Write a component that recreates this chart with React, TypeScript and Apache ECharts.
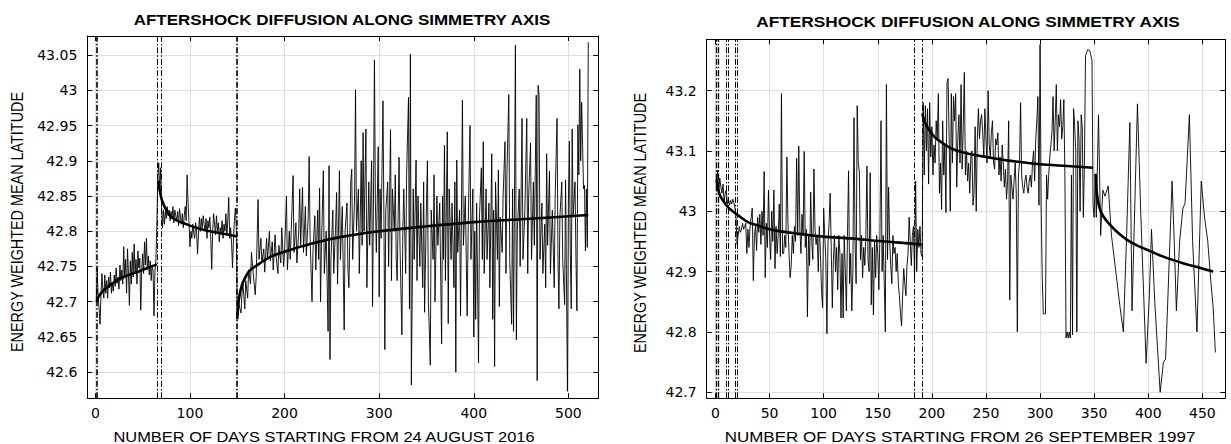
import React, { useEffect, useRef } from "react";
import * as echarts from "echarts";

const TITLE = "AFTERSHOCK DIFFUSION ALONG SIMMETRY AXIS";
const Y_NAME = "ENERGY WEIGHTED MEAN LATITUDE";
const LEFT_X_NAME = "NUMBER OF DAYS STARTING FROM 24 AUGUST 2016";
const RIGHT_X_NAME = "NUMBER OF DAYS STARTING FROM 26 SEPTEMBER 1997";

const LEFT_X_TICKS = [0, 100, 200, 300, 400, 500];
const LEFT_Y_TICKS = [42.6, 42.65, 42.7, 42.75, 42.8, 42.85, 42.9, 42.95, 43, 43.05];
const RIGHT_X_TICKS = [0, 50, 100, 150, 200, 250, 300, 350, 400, 450];
const RIGHT_Y_TICKS = [42.7, 42.8, 42.9, 43, 43.1, 43.2];

const LEFT_VLINES = [1.6, 65.7, 69.2, 149.9];
const LEFT_VLINE_WIDTH = [1.6, 1, 1, 1.6];
const RIGHT_VLINES = [1.1, 2.3, 9.7, 11.5, 18.3, 20.1, 183.5, 191.1];
const RIGHT_VLINE_WIDTH = [1.3, 1.3, 1, 1, 1, 1, 1, 1];

const leftObs: [number, number][] = [
  [1,42.700],[2,42.748],[3,42.705],[4,42.690],[5,42.668],[6,42.712],[7,42.740],[8,42.715],[9,42.705],[10,42.738],
  [11,42.712],[12,42.730],[13,42.705],[14,42.735],[15,42.720],[16,42.742],[17,42.712],[18,42.728],[19,42.715],[20,42.738],
  [21,42.722],[22,42.748],[23,42.726],[24,42.735],[25,42.718],[26,42.752],[27,42.730],[28,42.745],[29,42.725],[30,42.778],
  [31,42.735],[32,42.760],[33,42.712],[34,42.775],[35,42.740],[36,42.695],[37,42.758],[38,42.725],[39,42.770],[40,42.735],
  [41,42.782],[42,42.740],[43,42.760],[44,42.725],[45,42.772],[46,42.748],[47,42.762],[48,42.688],[49,42.745],[50,42.768],
  [51,42.740],[52,42.785],[53,42.752],[54,42.790],[55,42.745],[56,42.765],[57,42.738],[58,42.758],[59,42.730],[60,42.752],
  [61,42.745],[62,42.680],[63,42.742],[64,42.760],[65,42.808],
  [66,42.875],[67,42.897],[68,42.855],[69,42.890],[70,42.835],[71,42.805],[72,42.830],[73,42.810],[74,42.828],[75,42.818],
  [76,42.835],[77,42.822],[78,42.830],[79,42.815],[80,42.828],[81,42.820],[82,42.835],[83,42.812],[84,42.830],[85,42.822],
  [86,42.815],[87,42.828],[88,42.808],[89,42.832],[90,42.820],[91,42.810],[92,42.825],[93,42.805],[94,42.822],[95,42.835],
  [96,42.815],[97,42.880],[98,42.840],[99,42.812],[100,42.778],[101,42.800],[102,42.790],[103,42.810],[104,42.798],[105,42.790],
  [106,42.812],[107,42.800],[108,42.768],[109,42.795],[110,42.820],[111,42.800],[112,42.818],[113,42.805],[114,42.822],[115,42.810],
  [116,42.800],[117,42.818],[118,42.790],[119,42.815],[120,42.805],[121,42.820],[122,42.790],[123,42.746],[124,42.800],[125,42.825],
  [126,42.810],[127,42.795],[128,42.822],[129,42.800],[130,42.812],[131,42.785],[132,42.805],[133,42.798],[134,42.815],[135,42.790],
  [136,42.810],[137,42.800],[138,42.825],[139,42.795],[140,42.815],[141,42.848],[142,42.790],[143,42.805],[144,42.782],[145,42.748],
  [146,42.790],[147,42.815],[148,42.833],[149,42.805],
  [150,42.677],[151,42.705],[152,42.695],[154,42.684],[155,42.712],[156,42.725],[158,42.690],[159,42.730],[161,42.705],[162,42.745],
  [164,42.725],[165,42.770],[167,42.738],[169,42.710],[170,42.735],[172,42.845],[173,42.760],[175,42.790],[176,42.755],[178,42.775],
  [179,42.742],[181,42.790],[182,42.760],[184,42.800],[185,42.758],[187,42.785],[188,42.745],[190,42.795],[191,42.765],[193,42.740],
  [194,42.780],[196,42.755],[197,42.805],[199,42.750],[200,42.770],[202,42.850],[203,42.745],[205,42.800],[206,42.760],[208,42.838],
  [209,42.879],[210,42.770],[212,42.812],[213,42.755],[215,42.800],[216,42.860],[217,42.780],[219,42.862],[220,42.770],[222,42.835],
  [223,42.765],[225,42.820],[226,42.906],[227,42.790],[229,42.700],[230,42.770],[232,42.822],[233,42.745],[235,42.830],[236,42.760],
  [237,42.861],[238,42.700],[239,42.780],[241,42.886],[242,42.740],[244,42.800],[246,42.658],[247,42.893],[248,42.618],[249,42.760],
  [251,42.830],[252,42.740],[254,42.810],[255,42.855],[256,42.725],[258,42.886],[259,42.760],[261,42.835],[263,42.660],[264,42.800],
  [266,42.840],[267,42.745],[268,42.720],[270,42.870],[271,42.888],[272,42.760],[274,42.850],[275,43.001],[276,42.800],[278,42.860],
  [279,42.740],[281,42.900],[282,42.780],[283,42.940],[284,42.800],[286,42.945],[287,42.720],[289,42.870],[290,42.780],[292,42.900],
  [293,42.693],[294,42.850],[295,43.043],[296,42.840],[297,42.770],[299,42.920],[300,42.707],[301,42.860],[302,42.790],[304,42.985],
  [305,42.820],[306,42.632],[307,42.830],[309,42.870],[310,42.750],[312,42.944],[313,42.730],[314,42.860],[316,42.800],[317,42.880],
  [318,42.760],[319,42.730],[321,42.905],[322,42.780],[324,42.653],[325,42.800],[326,42.860],[328,42.740],[329,42.880],[331,42.990],
  [332,42.690],[333,43.051],[334,42.582],[336,42.860],[337,42.760],[339,42.901],[340,42.730],[341,42.850],[343,42.750],[344,42.840],
  [346,42.720],[347,42.870],[348,42.685],[350,42.840],[351,42.900],[352,42.700],[353,42.660],[354,42.610],[355,42.830],[357,42.760],
  [358,42.880],[359,42.700],[361,42.850],[362,42.780],[364,42.840],[366,42.640],[367,42.850],[368,42.760],[369,42.922],[370,42.730],
  [372,42.941],[373,42.669],[374,42.860],[376,42.760],[377,42.840],[379,42.720],[380,42.870],[381,42.600],[382,42.901],[383,42.770],
  [385,42.830],[386,42.680],[388,42.986],[389,42.780],[391,42.850],[393,42.680],[394,42.800],[396,42.950],[397,42.760],[399,42.860],
  [400,42.650],[401,42.800],[402,42.675],[403,42.840],[405,42.613],[406,42.820],[408,42.890],[409,42.760],[410,42.927],[411,42.740],
  [413,42.860],[414,42.760],[416,42.840],[417,42.720],[419,42.910],[420,42.675],[421,42.830],[422,42.608],[423,42.870],[425,42.760],
  [426,42.887],[427,42.693],[428,42.820],[430,42.770],[431,42.850],[433,42.927],[434,42.740],[435,42.880],[437,42.994],[438,42.760],
  [440,42.668],[441,42.860],[442,42.658],[443,42.840],[444,43.064],[445,42.646],[446,42.800],[448,42.860],[449,42.750],[451,42.960],
  [452,42.760],[454,42.830],[456,42.960],[457,42.740],[458,42.850],[460,42.925],[461,42.760],[463,42.870],[464,42.780],[466,42.993],
  [467,42.588],[468,43.007],[469,42.993],[470,42.760],[472,42.840],[473,42.740],[475,42.810],[476,42.720],[477,42.910],[478,42.780],
  [480,42.885],[481,42.740],[483,42.830],[485,42.720],[486,42.850],[488,42.960],[489,42.760],[490,42.690],[491,42.820],[493,42.870],
  [494,42.760],[496,42.696],[497,42.873],[499,42.573],[500,42.840],[501,42.928],[502,42.770],[503,42.690],[504,42.945],[505,42.820],
  [507,42.870],[508,42.760],[509,42.687],[510,42.951],[511,42.880],[512,43.030],[513,42.900],[514,42.983],[516,42.860],[517,42.865],
  [518,42.772],[519,42.860],[520,42.777],[521,43.068],
];

const leftFit1: [number, number][] = [
  [1.6,42.700],[3,42.706],[6,42.712],[10,42.718],[16,42.724],[25,42.732],[35,42.738],[44,42.742],[55,42.748],[65,42.753],
];
const leftFit2: [number, number][] = [
  [66.6,42.872],[68,42.858],[70,42.846],[72.5,42.837],[75.5,42.829],[79,42.822],[85,42.816],[92,42.812],[100,42.808],
  [112,42.803],[125,42.799],[137,42.796],[149,42.793],
];
const leftFit3: [number, number][] = [
  [150,42.675],[151,42.695],[152.5,42.710],[155,42.724],[158,42.733],[163,42.744],[170,42.751],[184,42.763],[200,42.771],
  [230,42.783],[260,42.792],[300,42.800],[350,42.807],[400,42.813],[450,42.817],[521,42.823],
];

const rightObs: [number, number][] = [
  [1,43.050],[2,43.068],[3,43.030],[4,43.055],[5,43.040],[6,43.030],[7,43.045],[8,43.015],[9,43.030],[10,43.035],
  [11,43.012],[12,43.020],[13,43.010],[14,43.018],[15,43.012],[16,43.020],[17,43.015],[18,43.005],[19,42.990],[20,42.945],
  [21,42.960],[22,42.975],[23,42.965],[24,42.970],[25,42.980],[26,42.970],[27,42.975],[28,42.980],[29,42.930],[30,42.970],
  [31,42.940],[32,42.975],[33,42.990],[34,43.005],[35,42.885],[36,42.960],[37,42.975],[38,42.935],[39,42.990],[40,42.965],
  [41,42.995],[42,42.945],[43,43.000],[44,42.960],[45,43.066],[46,42.890],[47,42.980],[48,42.940],[49,43.035],[50,42.960],
  [51,42.920],[52,43.000],[53,42.950],[54,43.035],[55,42.905],[56,42.975],[57,42.930],[58,42.960],[59,43.012],[60,42.925],
  [61,43.195],[62,42.930],[63,42.930],[64,42.960],[65,42.940],[66,43.090],[67,42.980],[68,42.930],[69,42.890],[70,42.910],
  [71,42.960],[72,42.930],[73,42.975],[74,42.950],[75,43.088],[76,42.960],[77,43.108],[78,42.970],[79,42.930],[80,42.995],
  [81,42.960],[82,43.099],[83,42.940],[84,42.970],[85,42.825],[86,42.960],[87,42.910],[88,43.032],[89,42.950],[90,42.920],
  [91,43.070],[92,42.970],[93,42.945],[94,42.960],[95,42.900],[96,42.975],[97,42.930],[98,42.870],[99,42.840],[100,43.005],
  [101,42.960],[102,42.920],[103,42.797],[104,42.950],[105,42.980],[106,43.030],[107,42.940],[108,42.840],[109,42.920],[110,42.960],
  [111,42.900],[112,42.940],[113,42.870],[114,42.960],[115,42.930],[116,42.823],[117,42.930],[118,42.823],[119,42.960],[120,42.900],
  [121,42.835],[122,42.960],[123,43.067],[124,42.880],[125,42.930],[126,42.835],[127,42.900],[128,43.155],[129,42.950],[130,42.880],
  [131,43.175],[132,43.080],[133,43.065],[134,42.920],[135,42.960],[136,42.890],[137,42.940],[138,42.910],[139,42.960],[140,43.075],
  [141,42.920],[142,42.900],[143,43.064],[144,42.845],[145,42.940],[146,42.828],[147,42.950],[148,42.890],[149,42.960],[150,42.930],
  [151,42.870],[152,42.960],[153,43.150],[154,42.900],[155,42.960],[156,42.880],[157,42.800],[158,43.210],[159,42.920],[160,43.040],
  [161,42.950],[162,42.910],[163,42.880],[164,42.960],[165,42.930],[166,42.940],[167,42.900],[168,42.930],[169,42.880],[170,42.860],
  [171,42.830],[172,42.810],[173,42.860],[174,42.905],[175,42.880],[176,42.860],[177,42.910],[178,42.930],[179,42.990],[180,42.950],
  [181,42.910],[182,42.960],[183,42.975],[184,42.890],[185,43.050],[186,42.900],[187,42.970],[188,42.940],[189,42.975],[190,42.930],
  [191,42.925],
  [192,43.180],[193,43.060],[194,43.175],[195,43.100],[196,43.170],[197,43.045],[198,43.180],[199,43.090],[200,43.140],[201,43.060],
  [202,43.110],[203,43.080],[204,43.150],[205,43.120],[206,43.195],[207,43.030],[208,43.080],[209,43.003],[210,43.150],[211,43.060],
  [212,43.110],[213,42.998],[214,43.214],[215,43.220],[216,43.120],[217,43.000],[218,43.195],[219,43.080],[220,43.190],[221,43.150],
  [222,43.195],[223,43.040],[224,43.120],[225,43.160],[226,43.080],[227,43.210],[228,43.070],[229,43.140],[230,43.230],[231,43.060],
  [232,43.100],[233,43.050],[234,43.080],[235,43.030],[236,43.090],[237,43.100],[238,43.010],[239,43.030],[240,43.140],[241,43.000],
  [242,43.120],[243,43.170],[244,43.120],[245,43.150],[246,43.160],[247,43.130],[248,43.090],[249,43.170],[250,43.120],[251,43.080],
  [252,43.200],[253,43.110],[254,43.090],[255,43.130],[256,43.150],[257,43.080],[258,43.070],[259,43.120],[260,43.110],[261,43.130],
  [262,43.060],[263,43.090],[264,43.050],[265,43.110],[266,43.080],[267,43.040],[268,43.070],[269,43.020],[270,43.050],[271,43.150],
  [272,42.853],[273,43.060],[274,43.040],[275,43.020],[276,43.050],[277,43.080],[278,43.030],[279,42.800],[280,43.060],[281,43.080],
  [282,43.180],[283,43.060],[284,43.040],[285,43.030],[286,43.050],[287,43.060],[288,43.040],[289,43.030],[290,43.050],[291,43.060],
  [292,43.040],[293,43.080],[294,43.100],[295,43.050],[296,43.120],[297,43.150],[298,43.190],[299,43.010],[300,43.276],[301,43.010],
  [302,42.893],[303,42.830],[304,42.830],[305,42.830],[306,43.060],[307,43.020],[308,43.060],[309,43.090],[310,43.110],[311,43.130],
  [312,43.190],[313,43.100],[314,43.150],[315,43.210],[316,43.100],[317,43.160],[318,43.140],[319,43.185],[320,43.120],[321,43.140],
  [322,43.185],[323,43.050],[324,42.790],[325,42.800],[326,42.790],[327,42.800],[328,42.790],[329,43.060],[330,42.795],[331,43.170],
  [332,43.140],[333,43.100],[334,42.800],[335,43.150],[336,43.120],[337,43.000],[338,43.160],[339,43.140],[340,42.990],[341,43.080],
  [342,43.258],[344,43.268],[346,43.266],[348,43.250],[349,43.010],[350,42.990],
  [351,43.062],[352,42.990],[354,43.160],[356,42.960],[358,43.035],[360,43.025],[363,43.042],[366,42.960],[370,42.900],[374,42.840],
  [377,42.800],[380,42.960],[383,43.147],[385,42.835],[390,43.178],[393,43.000],[396,42.850],[398,42.748],[401,42.860],[403,42.970],
  [406,42.850],[409,42.760],[411,42.700],[414,42.750],[416,42.755],[418,42.850],[422,43.050],[424,42.950],[426,42.835],[429,42.950],
  [432,43.005],[434,43.013],[438,43.160],[441,42.950],[445,42.800],[449,43.050],[452,42.990],[455,42.950],[458,42.880],[460,42.840],
  [462,42.766],
];

const rightFit1: [number, number][] = [
  [1.1,43.053],[2,43.040],[4,43.027],[7.2,43.017],[12,43.006],[18,42.997],[22.6,42.991],[30,42.982],[40,42.976],
  [50.4,42.970],[75,42.963],[99.6,42.958],[125,42.955],[149,42.951],[170,42.948],[190.6,42.945],
];
const rightFit2: [number, number][] = [
  [191.1,43.162],[193,43.150],[195,43.142],[198.2,43.133],[203,43.122],[210,43.113],[218,43.104],[230,43.097],
  [256.7,43.088],[280,43.082],[300,43.078],[325,43.075],[349,43.072],
];
const rightFit3: [number, number][] = [
  [351.4,43.062],[352.5,43.030],[355,43.005],[359,42.990],[365,42.977],[371,42.966],[380,42.953],[390,42.943],
  [401.6,42.934],[415,42.924],[432,42.914],[446,42.907],[460,42.900],
];

const fmt = (v: number) => String(Number(Number(v).toFixed(2)));
const FONT = "DejaVu Sans";

function xAxes(gridIndex: number, min: number, max: number, ticks: number[]) {
  const common = {
    type: "value",
    gridIndex,
    min,
    max,
    axisLine: { show: true, onZero: false, lineStyle: { color: "#000", width: 1 } },
    axisTick: { show: true, inside: true, length: 5, customValues: ticks, lineStyle: { color: "#000", width: 1 } },
  };
  return [
    {
      ...common,
      position: "bottom",
      axisLabel: { show: true, customValues: ticks, formatter: fmt, color: "#000", fontFamily: FONT, fontSize: 14, margin: 8 },
      splitLine: { show: true, lineStyle: { color: "#dfdfdf", width: 1 } },
    },
    { ...common, position: "top", axisLabel: { show: false }, splitLine: { show: false } },
  ];
}

function yAxes(gridIndex: number, min: number, max: number, ticks: number[]) {
  const common = {
    type: "value",
    gridIndex,
    min,
    max,
    axisLine: { show: true, onZero: false, lineStyle: { color: "#000", width: 1 } },
    axisTick: { show: true, inside: true, length: 5, customValues: ticks, lineStyle: { color: "#000", width: 1 } },
  };
  return [
    {
      ...common,
      position: "left",
      axisLabel: { show: true, customValues: ticks, formatter: fmt, color: "#000", fontFamily: FONT, fontSize: 14, margin: 10 },
      splitLine: { show: true, lineStyle: { color: "#dfdfdf", width: 1 } },
    },
    { ...common, position: "right", axisLabel: { show: false }, splitLine: { show: false } },
  ];
}

function vlines(xs: number[], widths: number[]) {
  return xs.map((x, i) => ({
    xAxis: x,
    lineStyle: { color: "#000", width: widths[i], type: [6, 2, 1.5, 2] },
  }));
}

function obsSeries(data: [number, number][], xi: number, yi: number, lines: any[]) {
  return {
    type: "line",
    xAxisIndex: xi,
    yAxisIndex: yi,
    data,
    showSymbol: false,
    symbol: "none",
    lineStyle: { color: "#000", width: 0.9 },
    z: 3,
    markLine: { silent: true, symbol: "none", label: { show: false }, data: lines },
  };
}

function fitSeries(data: [number, number][], xi: number, yi: number) {
  return {
    type: "line",
    xAxisIndex: xi,
    yAxisIndex: yi,
    data,
    smooth: 0.3,
    showSymbol: false,
    symbol: "none",
    lineStyle: { color: "#000", width: 2.6 },
    z: 5,
  };
}

function txt(text: string, x: number, y: number, bold: boolean, extra: any = {}) {
  return {
    type: "text",
    x,
    y,
    ...extra,
    style: {
      text,
      fill: "#000",
      fontFamily: "Liberation Sans",
      fontSize: 14.4,
      fontWeight: bold ? "bold" : "normal",
      align: "center",
      verticalAlign: "middle",
      textAlign: "center",
      textVerticalAlign: "middle",
    },
  };
}

export default function App() {
  const ref = useRef<HTMLDivElement>(null);
  useEffect(() => {
    if (!ref.current) return;
    const chart = echarts.init(ref.current, null, { renderer: "svg" });
    const option: any = {
      animation: false,
      backgroundColor: "#fff",
      grid: [
        { left: 87.3, top: 36, width: 511, height: 362.3 },
        { left: 706.7, top: 39.3, width: 518.6, height: 359 },
      ],
      xAxis: [...xAxes(0, -8.5, 531.6, LEFT_X_TICKS), ...xAxes(1, -8.1, 471.2, RIGHT_X_TICKS)],
      yAxis: [...yAxes(0, 42.563, 43.077, LEFT_Y_TICKS), ...yAxes(1, 42.69, 43.285, RIGHT_Y_TICKS)],
      series: [
        obsSeries(leftObs, 0, 0, vlines(LEFT_VLINES, LEFT_VLINE_WIDTH)),
        fitSeries(leftFit1, 0, 0),
        fitSeries(leftFit2, 0, 0),
        fitSeries(leftFit3, 0, 0),
        obsSeries(rightObs, 2, 2, vlines(RIGHT_VLINES, RIGHT_VLINE_WIDTH)),
        fitSeries(rightFit1, 2, 2),
        fitSeries(rightFit2, 2, 2),
        fitSeries(rightFit3, 2, 2),
      ],
      graphic: [
        txt(TITLE, 342, 20, true, { scaleX: 1.18 }),
        txt(TITLE, 968, 22.5, true, { scaleX: 1.2 }),
        txt(LEFT_X_NAME, 324, 436.5, false, { scaleX: 1.14 }),
        txt(RIGHT_X_NAME, 960, 436.5, false, { scaleX: 1.18 }),
        txt(Y_NAME, 17, 222, false, { rotation: Math.PI / 2, scaleY: 1.18 }),
        txt(Y_NAME, 640, 223, false, { rotation: Math.PI / 2, scaleY: 1.18 }),
      ],
    };
    chart.setOption(option);
    return () => chart.dispose();
  }, []);
  return (
    <div
      ref={ref}
      style={{ position: "absolute", left: 0, top: 0, width: 1231, height: 444, background: "#fff" }}
    />
  );
}
